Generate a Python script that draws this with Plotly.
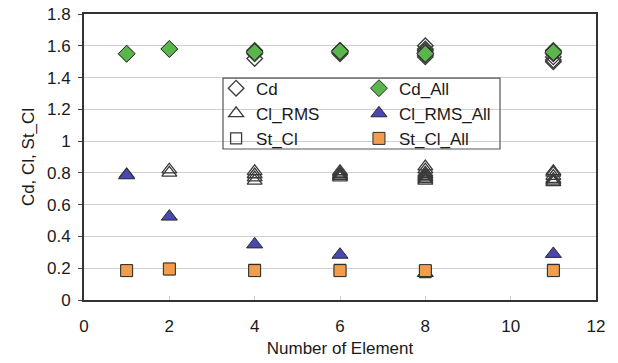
import plotly.graph_objects as go

# Per-element results (several elements share the same element count)
cd_x = [1, 2, 4, 4, 4, 4, 6, 6, 6, 6, 6, 6, 8, 8, 8, 8, 8, 8, 8, 8, 11, 11, 11, 11, 11, 11]
cd_y = [1.55, 1.58, 1.57, 1.56, 1.55, 1.52, 1.57, 1.56, 1.56, 1.55, 1.57, 1.56,
        1.60, 1.58, 1.57, 1.56, 1.55, 1.54, 1.53, 1.55, 1.57, 1.56, 1.55, 1.53, 1.51, 1.50]

cl_x = [1, 2, 2, 4, 4, 4, 4, 6, 6, 6, 6, 6, 6, 8, 8, 8, 8, 8, 8, 8, 8, 11, 11, 11, 11, 11, 11]
cl_y = [0.79, 0.82, 0.80, 0.81, 0.79, 0.77, 0.75, 0.81, 0.80, 0.79, 0.78, 0.77, 0.78,
        0.84, 0.82, 0.80, 0.79, 0.78, 0.77, 0.76, 0.75, 0.81, 0.80, 0.78, 0.76, 0.75, 0.74]

st_x = [1, 2, 4, 4, 6, 6, 8, 8, 11, 11]
st_y = [0.185, 0.195, 0.185, 0.19, 0.185, 0.19, 0.18, 0.175, 0.185, 0.19]

# Whole-group results
all_x = [1, 2, 4, 6, 8, 11]
cd_all = [1.55, 1.58, 1.56, 1.565, 1.55, 1.56]
cl_rms_all = [0.785, 0.525, 0.35, 0.285, 0.17, 0.29]
st_cl_all = [0.185, 0.195, 0.185, 0.185, 0.185, 0.185]

y_ticks = [0, 0.2, 0.4, 0.6, 0.8, 1, 1.2, 1.4, 1.6, 1.8]
y_tick_text = ["0", "0.2", "0.4", "0.6", "0.8", "1", "1.2", "1.4", "1.6", "1.8"]
x_ticks = [0, 2, 4, 6, 8, 10, 12]

FONT = "Liberation Sans, Arial, sans-serif"
EDGE = "#2a2a2a"
HOLLOW = "#3a3a3a"

fig = go.Figure()

fig.add_trace(go.Scatter(x=cd_x, y=cd_y, mode="markers", name="Cd", legend="legend",
                         marker=dict(symbol="diamond-open", size=12, color=HOLLOW,
                                     line=dict(width=1.3, color=HOLLOW))))
fig.add_trace(go.Scatter(x=cl_x, y=cl_y, mode="markers", name="Cl_RMS", legend="legend",
                         marker=dict(symbol="triangle-up-open", size=13, color=HOLLOW,
                                     line=dict(width=1.3, color=HOLLOW))))
fig.add_trace(go.Scatter(x=st_x, y=st_y, mode="markers", name="St_Cl", legend="legend",
                         marker=dict(symbol="square-open", size=11, color=HOLLOW,
                                     line=dict(width=1.3, color=HOLLOW))))

fig.add_trace(go.Scatter(x=all_x, y=cd_all, mode="markers", name="Cd_All", legend="legend2",
                         marker=dict(symbol="diamond", size=13, color="#5bb54d",
                                     line=dict(width=1, color=EDGE))))
fig.add_trace(go.Scatter(x=all_x, y=cl_rms_all, mode="markers", name="Cl_RMS_All", legend="legend2",
                         marker=dict(symbol="triangle-up", size=14, color="#4848b0",
                                     line=dict(width=1, color=EDGE))))
fig.add_trace(go.Scatter(x=all_x, y=st_cl_all, mode="markers", name="St_Cl_All", legend="legend2",
                         marker=dict(symbol="square", size=12, color="#f39c4e",
                                     line=dict(width=1, color=EDGE))))

legend_style = dict(
    bgcolor="rgba(255,255,255,0)", borderwidth=0,
    font=dict(family=FONT, size=17, color="#1a1a1a"),
    tracegroupgap=0, itemwidth=30,
    xanchor="left", yanchor="top",
)

fig.update_layout(
    width=618, height=363,
    margin=dict(l=84, r=22, t=14, b=63),
    paper_bgcolor="white", plot_bgcolor="white",
    font=dict(family=FONT, size=16, color="#1a1a1a"),
    showlegend=True,
    legend=dict(x=0.258, y=0.802, **legend_style),
    legend2=dict(x=0.537, y=0.802, **legend_style),
    shapes=[dict(type="rect", xref="paper", yref="paper",
                 x0=0.2715, x1=0.8125, y0=0.528, y1=0.776,
                 line=dict(color="#555555", width=1.2), fillcolor="rgba(0,0,0,0)")],
    xaxis=dict(
        range=[0, 12], tickvals=x_ticks,
        showgrid=False, zeroline=False, automargin=False,
        showline=True, linecolor="#333333", linewidth=2, mirror=True,
        ticks="inside", ticklen=4, tickcolor="#cccccc",
        ticklabelstandoff=10,
        tickfont=dict(family=FONT, size=17, color="#1a1a1a"),
        title=dict(text="Number of Element", font=dict(family=FONT, size=17), standoff=7),
    ),
    yaxis=dict(
        range=[0, 1.8], tickvals=y_ticks, ticktext=y_tick_text,
        showgrid=True, gridcolor="#cfcfcf", gridwidth=1.2, zeroline=False, automargin=False,
        showline=True, linecolor="#333333", linewidth=2, mirror=True,
        ticks="outside", ticklen=4, tickcolor="#444444",
        ticklabelstandoff=4,
        tickfont=dict(family=FONT, size=17, color="#1a1a1a"),
        title=dict(text="Cd, Cl, St_Cl", font=dict(family=FONT, size=17), standoff=8),
    ),
)

fig.write_html("out.html")
